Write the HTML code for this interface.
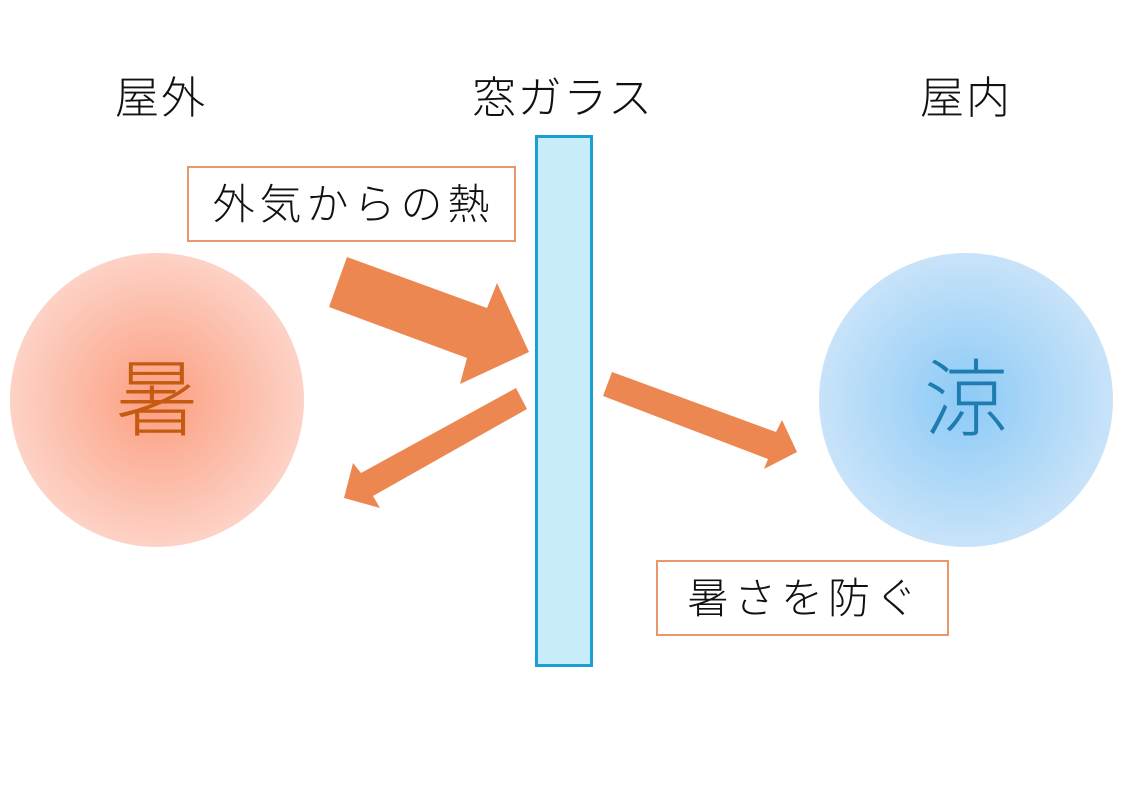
<!DOCTYPE html>
<html><head><meta charset="utf-8"><style>
html,body{margin:0;padding:0;background:#fff;}
text{font-family:"Liberation Sans","Noto Sans CJK JP",sans-serif;font-weight:300;}
</style></head><body>
<svg width="1124" height="802" viewBox="0 0 1124 802" xmlns="http://www.w3.org/2000/svg">
<defs>
<radialGradient id="rg" cx="50%" cy="50%" r="50%">
<stop offset="0" stop-color="#fb9e80"/><stop offset="1" stop-color="#fdd2c6"/>
</radialGradient>
<radialGradient id="bg" cx="50%" cy="50%" r="50%">
<stop offset="0" stop-color="#8ccaf6"/><stop offset="1" stop-color="#c8e3f9"/>
</radialGradient>
</defs>
<rect width="1124" height="802" fill="#fff"/>
<text x="160" y="113" font-size="44" text-anchor="middle" textLength="90" fill="#111">屋外</text>
<text x="562" y="113" font-size="44" text-anchor="middle" textLength="180" fill="#111">窓ガラス</text>
<text x="965" y="113" font-size="44" text-anchor="middle" textLength="90" fill="#111">屋内</text>
<circle cx="157" cy="400" r="147" fill="url(#rg)"/>
<circle cx="966" cy="400" r="147" fill="url(#bg)"/>
<text x="157" y="429" font-size="84" text-anchor="middle" fill="#c55a11">暑</text>
<text x="966" y="429" font-size="84" text-anchor="middle" fill="#1f7cb0">涼</text>
<rect x="188" y="167" width="327" height="74" fill="#fff" stroke="#e8966a" stroke-width="2"/>
<text x="351" y="219" font-size="42" text-anchor="middle" textLength="277" fill="#111">外気からの熱</text>
<rect x="657" y="561" width="291" height="74" fill="#fff" stroke="#e8966a" stroke-width="2"/>
<text x="802" y="613" font-size="42" text-anchor="middle" textLength="230" fill="#111">暑さを防ぐ</text>
<rect x="536.5" y="136.5" width="55" height="529" fill="#c9ecfb" stroke="#1a9fd4" stroke-width="3"/>
<polygon points="347,257 487,308 497,283 529,352 460,384 467,358 329,307" fill="#ed8751"/>
<polygon points="516,388 527,409 373,496 380,508 344,498 353,463 361,473" fill="#ed8751"/>
<polygon points="612,372 776,432 782,420 797,452 764,469 768,459 603,396" fill="#ed8751"/>
</svg>
</body></html>
